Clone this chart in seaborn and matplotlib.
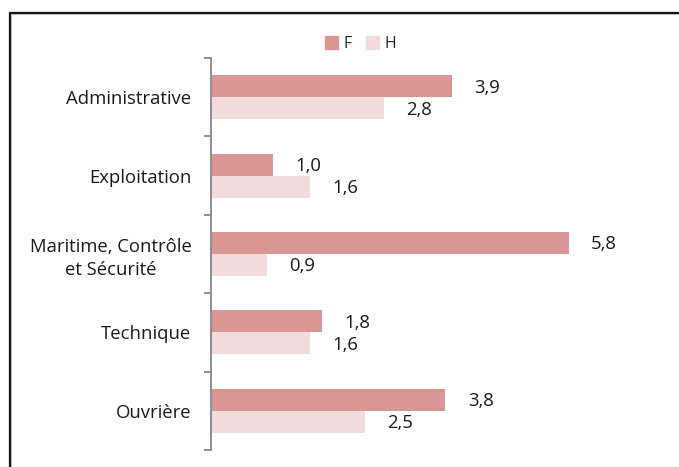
import matplotlib
matplotlib.use("Agg")
import matplotlib.pyplot as plt
from matplotlib.lines import Line2D
import seaborn as sns
import pandas as pd

categories = ["Administrative", "Exploitation", "Maritime, Contrôle\net Sécurité", "Technique", "Ouvrière"]
values_f = [3.9, 1.0, 5.8, 1.8, 3.8]
values_h = [2.8, 1.6, 0.9, 1.6, 2.5]
series = ["F", "H"]
colors = {"F": "#D99694", "H": "#F2DCDB"}

df = pd.DataFrame({
    "categorie": categories * 2,
    "valeur": values_f + values_h,
    "sexe": ["F"] * len(categories) + ["H"] * len(categories),
})

sns.set_style("white")
plt.rcParams["font.family"] = ["Open Sans", "DejaVu Sans"]

fig = plt.figure(figsize=(6.79, 4.67), dpi=100)
ax = fig.add_axes([211 / 679, 1 - 450 / 467, 448 / 679, (450 - 58) / 467])

sns.barplot(data=df, y="categorie", x="valeur", hue="sexe", hue_order=series,
            palette=colors, saturation=1, orient="h", width=0.56, gap=0, ax=ax,
            edgecolor="none", linewidth=0, legend=False, errorbar=None)

ax.set_xlim(0, 7.26)
ax.set_ylim(len(categories) - 0.5, -0.5)
ax.set_xlabel("")
ax.set_ylabel("")
ax.set_xticks([])

# category labels without marks; boundary ticks as minor ticks
ax.set_yticks(range(len(categories)))
ax.set_yticklabels(categories, multialignment="center", linespacing=1.35,
                   fontsize=13.3, color="#1a1a1a")
ax.tick_params(axis="y", which="major", length=0, pad=14)
ax.set_yticks([i - 0.5 for i in range(len(categories) + 1)], minor=True)
ax.tick_params(axis="y", which="minor", length=5, width=1.3, color="#868686", direction="out", left=True)

for s in ["top", "right", "bottom"]:
    ax.spines[s].set_visible(False)
ax.spines["left"].set_color("#868686")
ax.spines["left"].set_linewidth(1.3)

# value labels
for container, vals in zip(ax.containers, [values_f, values_h]):
    for bar, v in zip(container, vals):
        ax.annotate(f"{v:.1f}".replace(".", ","),
                    xy=(bar.get_width(), bar.get_y() + bar.get_height() / 2),
                    xytext=(16, -1), textcoords="offset points",
                    ha="left", va="center", fontsize=13.3, color="#1a1a1a")

handles = [plt.Rectangle((0, 0), 1, 1, color=colors[s]) for s in series]
fig.legend(handles, series, loc="center", bbox_to_anchor=(361 / 679, 1 - 44 / 467),
           ncol=2, frameon=False, fontsize=11.5, handlelength=0.8, handleheight=0.8,
           handletextpad=0.35, columnspacing=0.9)

# outer chart frame
y_top = 1 - 12.5 / 467
x_left = 9.5 / 679
fig.add_artist(Line2D([x_left, 1.0], [y_top, y_top], color="#111111", lw=1.6, transform=fig.transFigure))
fig.add_artist(Line2D([x_left, x_left], [0.0, y_top], color="#111111", lw=1.6, transform=fig.transFigure))
fig.add_artist(Line2D([x_left + 1.5 / 679, 1.0], [y_top - 1.5 / 467, y_top - 1.5 / 467], color="#bbbbbb", lw=0.8, transform=fig.transFigure))
fig.add_artist(Line2D([x_left + 1.5 / 679, x_left + 1.5 / 679], [0.0, y_top - 1.5 / 467], color="#bbbbbb", lw=0.8, transform=fig.transFigure))

fig.savefig("out.png", dpi=100)
